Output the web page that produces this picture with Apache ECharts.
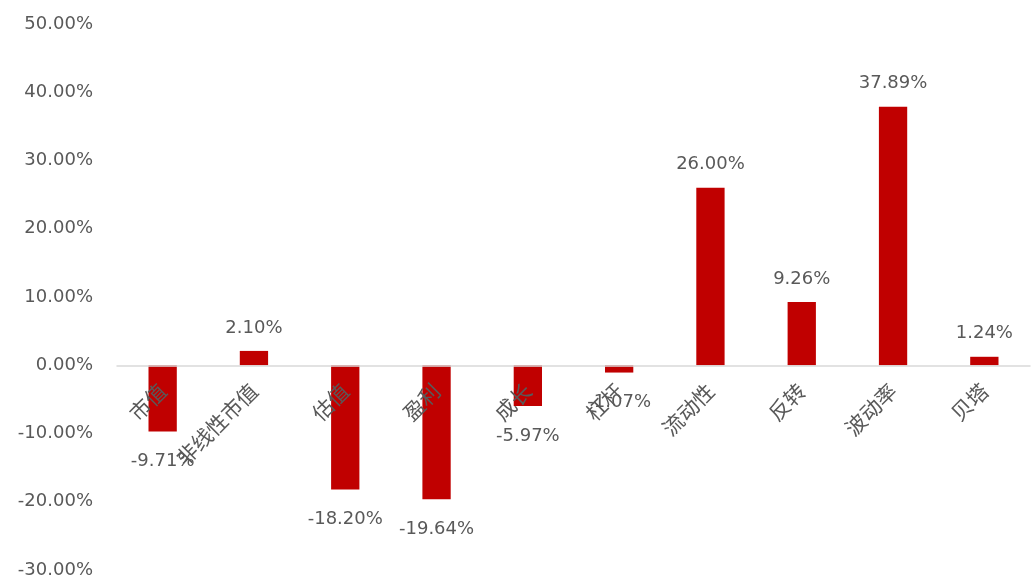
<!DOCTYPE html>
<html>
<head>
<meta charset="utf-8">
<script src="https://cdn.jsdelivr.net/npm/echarts@6/dist/echarts.min.js"></script>
<style>
html,body{margin:0;padding:0;background:#fff;}
#c{width:1035px;height:588px;}
</style>
</head>
<body>
<div id="c"></div>
<script>
var categories = ['市值','非线性市值','估值','盈利','成长','杠杆','流动性','反转','波动率','贝塔'];
var values = [-9.71, 2.10, -18.20, -19.64, -5.97, -1.07, 26.00, 9.26, 37.89, 1.24];
var yMin = -30, yMax = 50, yStep = 10;

var NUMFONT = '"DejaVu Sans", sans-serif';
var CJKFONT = '"Noto Sans CJK SC", sans-serif';
var W = 1035, H = 588;
var gTop = 24, gBottom = 18, gLeft = 117, gRight = 5;
var plotH = H - gTop - gBottom;
var zeroY = gTop + (yMax - 0) / (yMax - yMin) * plotH;
var catLabelMargin = (zeroY - (H - gBottom)) + 22;

var chart = echarts.init(document.getElementById('c'), null, {renderer:'canvas'});
var data = values.map(function(v){
  return {
    value: v,
    label: { position: v >= 0 ? 'top' : 'bottom', distance: v >= 0 ? 14 : 21 }
  };
});
chart.setOption({
  animation: false,
  backgroundColor: '#ffffff',
  grid: { left: gLeft, right: gRight, top: gTop, bottom: gBottom, containLabel: false, outerBoundsMode: 'none' },
  xAxis: {
    type: 'category',
    data: categories,
    z: 10,
    axisLine: { onZero: true, lineStyle: { color: '#d9d9d9', width: 1.5 } },
    axisTick: { show: false },
    axisLabel: {
      rotate: 45,
      margin: catLabelMargin,
      interval: 0,
      color: '#595959',
      fontSize: 21,
      fontFamily: CJKFONT,
      hideOverlap: false
    },
    splitLine: { show: false }
  },
  yAxis: {
    type: 'value',
    min: yMin,
    max: yMax,
    interval: yStep,
    axisLine: { show: false },
    axisTick: { show: false },
    splitLine: { show: false },
    axisLabel: {
      margin: 24,
      color: '#595959',
      fontSize: 18,
      fontFamily: NUMFONT,
      formatter: function(v){ return v.toFixed(2) + '%'; }
    }
  },
  series: [{
    type: 'bar',
    z: 2,
    data: data,
    barWidth: '31%',
    itemStyle: { color: '#C00000' },
    label: {
      show: true,
      color: '#595959',
      fontSize: 18,
      fontFamily: NUMFONT,
      formatter: function(p){ return p.value.toFixed(2) + '%'; }
    }
  }]
});
</script>
</body>
</html>
